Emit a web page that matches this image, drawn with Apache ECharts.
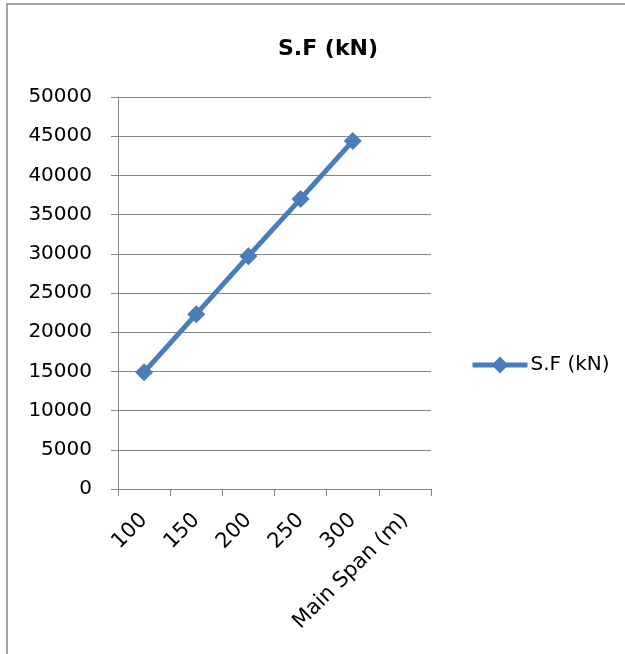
<!DOCTYPE html>
<html>
<head>
<meta charset="utf-8">
<script src="https://cdn.jsdelivr.net/npm/echarts@6/dist/echarts.min.js"></script>
<style>
  html, body { margin: 0; padding: 0; background: #fff; }
  #chart { width: 625px; height: 654px; }
</style>
</head>
<body>
<div id="chart"></div>
<script>
// Shear force against main span length
const categories = ['100', '150', '200', '250', '300', 'Main Span (m)'];
const shearForce = [14900, 22300, 29700, 37000, 44400];
const seriesName = 'S.F (kN)';
const titleText = 'S.F (kN)';

const FONT = 'DejaVu Sans';
const GRAY = '#868686';
const BLUE = '#4a7ebb';

const chart = echarts.init(document.getElementById('chart'), null, { renderer: 'canvas' });

chart.setOption({
  animation: false,
  backgroundColor: '#fff',
  graphic: [
    {
      type: 'polyline',
      shape: { points: [[7, 660], [7, 4], [630, 4]] },
      style: { stroke: GRAY, lineWidth: 1.5, fill: null }
    }
  ],
  title: {
    text: titleText,
    left: 323,
    textAlign: 'center',
    top: 33,
    textStyle: { fontFamily: FONT, fontSize: 22, fontWeight: 'bold', color: '#000' }
  },
  legend: {
    data: [seriesName],
    left: 470,
    top: 355,
    padding: 0,
    itemWidth: 55,
    itemHeight: 21,
    itemGap: 4,
    lineStyle: { width: 5 },
    textStyle: { fontFamily: FONT, fontSize: 20, color: '#000', padding: [4, 0, 0, -2] }
  },
  grid: { left: 118, right: 194, top: 97, bottom: 165, containLabel: false },
  xAxis: {
    type: 'category',
    data: categories,
    boundaryGap: true,
    axisLine: { lineStyle: { color: GRAY, width: 1 } },
    axisTick: { show: true, length: 7, alignWithLabel: false, lineStyle: { color: GRAY } },
    axisLabel: {
      rotate: 45,
      interval: 0,
      margin: 28,
      fontFamily: FONT,
      fontSize: 21,
      color: '#000'
    },
    splitLine: { show: false }
  },
  yAxis: {
    type: 'value',
    min: 0,
    max: 50000,
    interval: 5000,
    axisLine: { show: true, lineStyle: { color: GRAY, width: 1 } },
    axisTick: { show: true, length: 7, lineStyle: { color: GRAY } },
    axisLabel: {
      margin: 26,
      fontFamily: FONT,
      fontSize: 20,
      color: '#000',
      formatter: (v) => String(v)
    },
    splitLine: { show: true, lineStyle: { color: GRAY, width: 1 } }
  },
  series: [{
    name: seriesName,
    type: 'line',
    data: shearForce,
    symbol: 'diamond',
    symbolSize: 18,
    lineStyle: { color: BLUE, width: 5 },
    itemStyle: { color: BLUE },
    emphasis: { disabled: true }
  }]
});
</script>
</body>
</html>
